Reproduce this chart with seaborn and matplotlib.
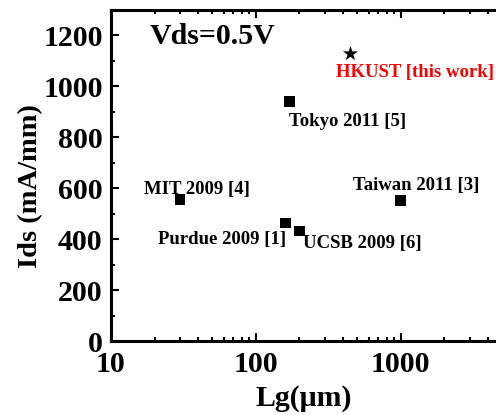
import matplotlib
matplotlib.use("Agg")
import matplotlib.pyplot as plt
import seaborn as sns
import pandas as pd
from matplotlib.ticker import MultipleLocator, LogLocator, NullFormatter, FixedLocator

# Data
groups = ["MIT 2009 [4]", "Tokyo 2011 [5]", "Taiwan 2011 [3]", "Purdue 2009 [1]", "UCSB 2009 [6]", "HKUST [this work]"]
lg_um = [30, 170, 1000, 160, 200, 450]
ids_ma_mm = [557, 940, 553, 463, 432, 1128]
kind = ["ref", "ref", "ref", "ref", "ref", "this"]
x_ticks = [10, 100, 1000]
x_tick_labels = ["10", "100", "1000"]

df = pd.DataFrame({"Lg": lg_um, "Ids": ids_ma_mm, "group": groups, "kind": kind})

sns.set_theme(style="ticks")
plt.rcParams['font.family'] = ['Liberation Serif', 'DejaVu Serif']
plt.rcParams['font.weight'] = 'bold'
for k in ["text.color", "axes.labelcolor", "xtick.color", "ytick.color", "axes.edgecolor"]:
    plt.rcParams[k] = "black"

fig = plt.figure(figsize=(4.96, 4.15), dpi=100)
ax = fig.add_axes([111/496, 1 - 341/415, 1 - 111/496 + 0.002, (341 - 10)/415])

sns.scatterplot(data=df, x="Lg", y="Ids", style="kind", markers={"ref": "s", "this": "*"},
                size="kind", sizes={"ref": 60, "this": 130},
                color="black", edgecolor="black", linewidth=0, legend=False, ax=ax)

ax.set_xscale("log")
ax.set_xlim(10, 4620)
ax.set_ylim(0, 1300)

# Labels for points
label_pos = {
    "MIT 2009 [4]": (197, 189, "black"),
    "Tokyo 2011 [5]": (348, 121, "black"),
    "Taiwan 2011 [3]": (416, 185, "black"),
    "Purdue 2009 [1]": (222, 239, "black"),
    "UCSB 2009 [6]": (362, 243, "black"),
    "HKUST [this work]": (415, 72, "red"),
}
for g in groups:
    px, py, c = label_pos[g]
    ax.annotate(g, xy=(px / 496, 1 - py / 415), xycoords="figure fraction",
                ha="center", va="center", fontsize=13.5, fontweight="bold", color=c)

ax.text(150 / 496, 1 - 37 / 415, "Vds=0.5V", transform=fig.transFigure,
        ha="left", va="center", fontsize=21.5, fontweight="bold")

ax.set_xlabel("Lg(μm)", fontsize=21.5, fontweight="bold", labelpad=5)
ax.set_ylabel("Ids (mA/mm)", fontsize=20.5, fontweight="bold")
ax.yaxis.set_label_coords(-0.176, 0.468)

ax.yaxis.set_major_locator(MultipleLocator(200))
ax.yaxis.set_minor_locator(MultipleLocator(100))
ax.xaxis.set_major_locator(FixedLocator(x_ticks))
ax.xaxis.set_minor_locator(LogLocator(base=10, subs=range(2, 10), numticks=20))
ax.xaxis.set_minor_formatter(NullFormatter())
ax.set_xticklabels(x_tick_labels)

ax.tick_params(which="both", direction="in", top=True, right=False, width=1.5, labelsize=21.5)
ax.tick_params(axis="y", pad=6)
ax.tick_params(axis="x", pad=7)
ax.tick_params(which="major", length=6)
ax.tick_params(which="minor", length=3)
for lab in ax.get_xticklabels() + ax.get_yticklabels():
    lab.set_fontweight("bold")

for s in ["left", "bottom", "top"]:
    ax.spines[s].set_linewidth(2.2)
ax.spines["right"].set_visible(False)

fig.savefig("out.png", dpi=100)
